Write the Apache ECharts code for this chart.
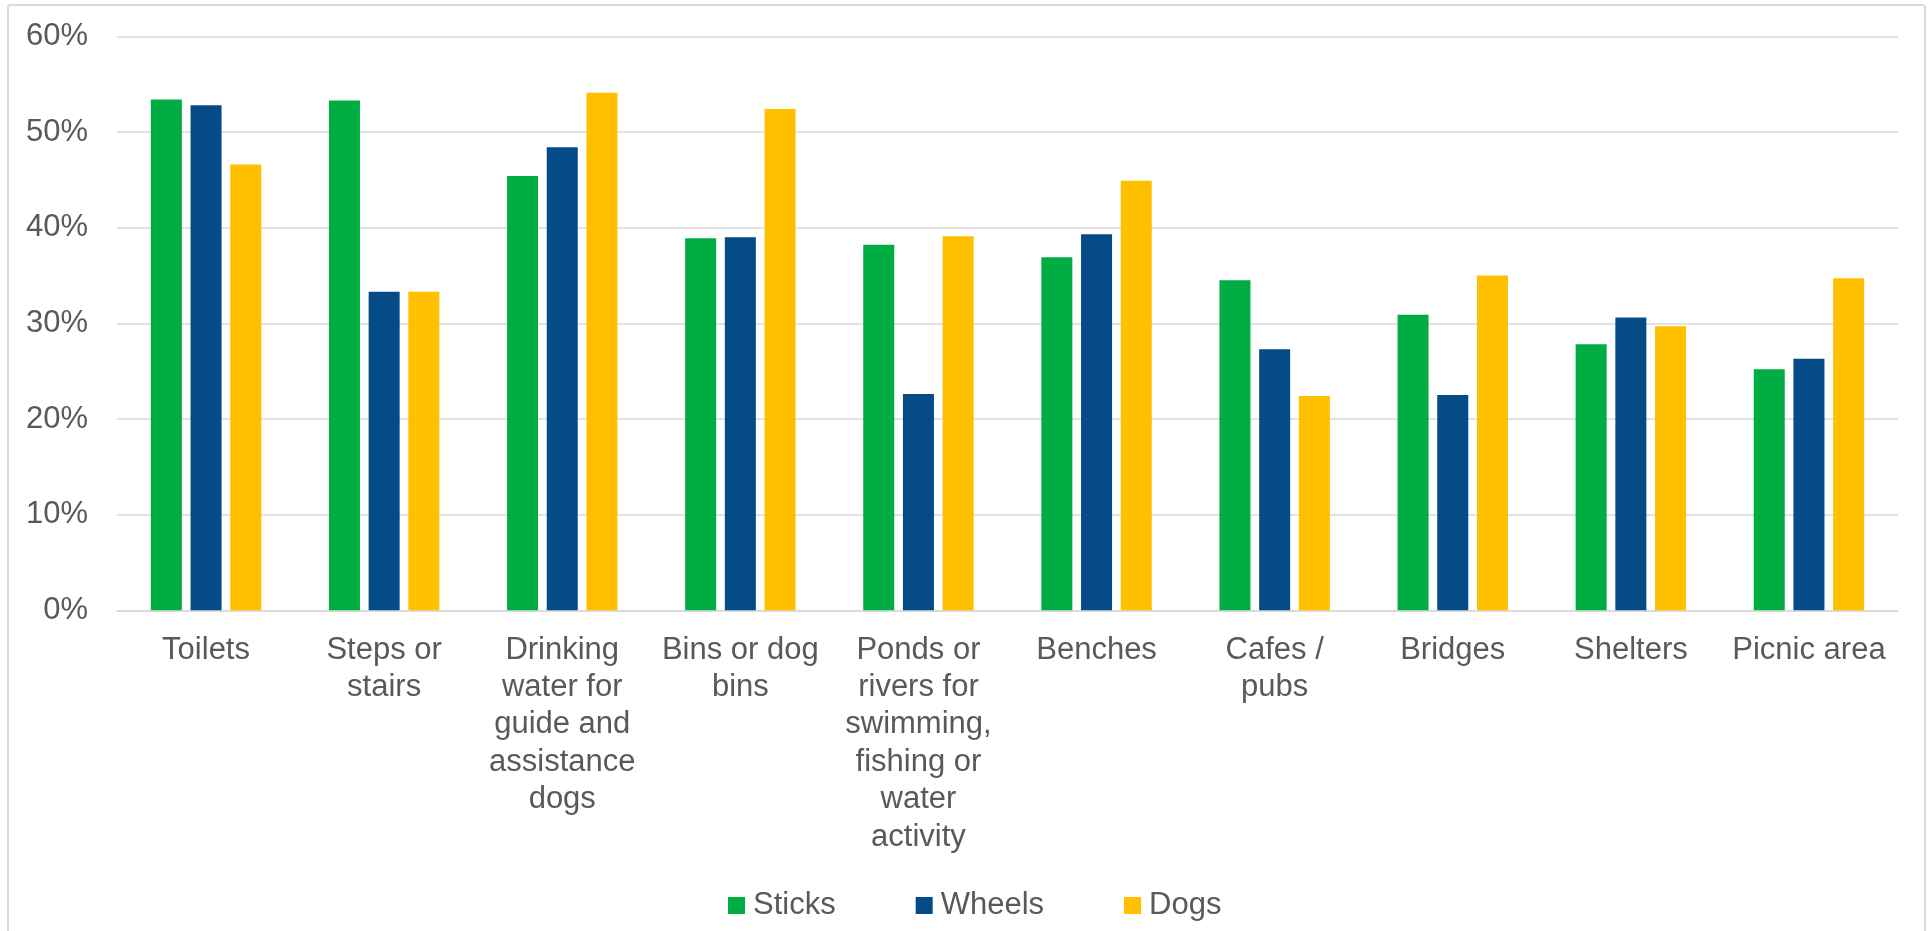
<!DOCTYPE html>
<html>
<head>
<meta charset="utf-8">
<script src="https://cdn.jsdelivr.net/npm/echarts@6/dist/echarts.min.js"></script>
<style>
  html, body { margin: 0; padding: 0; background: #ffffff; }
  #chart { width: 1928px; height: 931px; }
</style>
</head>
<body>
<div id="chart"></div>
<script>
// Facilities wanted, by group (percent of respondents)
const categories = [
  'Toilets',
  'Steps or\nstairs',
  'Drinking\nwater for\nguide and\nassistance\ndogs',
  'Bins or dog\nbins',
  'Ponds or\nrivers for\nswimming,\nfishing or\nwater\nactivity',
  'Benches',
  'Cafes /\npubs',
  'Bridges',
  'Shelters',
  'Picnic area'
];
const sticks = [53.4, 53.3, 45.4, 38.9, 38.2, 36.9, 34.5, 30.9, 27.8, 25.2];
const wheels = [52.8, 33.3, 48.4, 39.0, 22.6, 39.3, 27.3, 22.5, 30.6, 26.3];
const dogs   = [46.6, 33.3, 54.1, 52.4, 39.1, 44.9, 22.4, 35.0, 29.7, 34.7];
const yTicks = { min: 0, max: 60, step: 10 };

const FONT = "'Liberation Sans', Arial, sans-serif";
const TEXT = '#595959';
const GRID = '#D9D9D9';

const chart = echarts.init(document.getElementById('chart'), null, { renderer: 'canvas' });

function barSeries(name, data, color) {
  return {
    name: name,
    type: 'bar',
    data: data,
    barCategoryGap: '38%',
    barGap: '28%',
    itemStyle: { color: color },
    emphasis: { disabled: true }
  };
}

chart.setOption({
  animation: false,
  backgroundColor: '#ffffff',
  graphic: [{
    type: 'rect',
    shape: { x: 8, y: 5, width: 1917, height: 960, r: 3 },
    style: { fill: 'none', stroke: GRID, lineWidth: 2 },
    silent: true,
    z: -1
  }],
  grid: { left: 117, right: 30, top: 36.3, bottom: 320.7, containLabel: false },
  legend: {
    left: 723,
    top: 885,
    itemWidth: 17,
    itemHeight: 17,
    itemGap: 80,
    icon: 'rect',
    textStyle: { color: TEXT, fontSize: 31, fontFamily: FONT, padding: [0, 0, 0, 3] },
    data: ['Sticks', 'Wheels', 'Dogs']
  },
  xAxis: {
    type: 'category',
    data: categories,
    axisLine: { show: true, lineStyle: { color: GRID, width: 1.5 } },
    axisTick: { show: false },
    axisLabel: {
      interval: 0,
      margin: 21,
      color: TEXT,
      fontSize: 31,
      fontFamily: FONT,
      lineHeight: 37.4,
      align: 'center'
    }
  },
  yAxis: {
    type: 'value',
    min: yTicks.min,
    max: yTicks.max,
    interval: yTicks.step,
    axisLine: { show: false },
    axisTick: { show: false },
    splitLine: { lineStyle: { color: GRID, width: 1.5 } },
    axisLabel: {
      margin: 29,
      color: TEXT,
      fontSize: 31,
      fontFamily: FONT,
      formatter: function (v) { return v + '%'; }
    }
  },
  series: [
    barSeries('Sticks', sticks, '#00AD43'),
    barSeries('Wheels', wheels, '#054B88'),
    barSeries('Dogs', dogs, '#FFC000')
  ]
});
</script>
</body>
</html>
